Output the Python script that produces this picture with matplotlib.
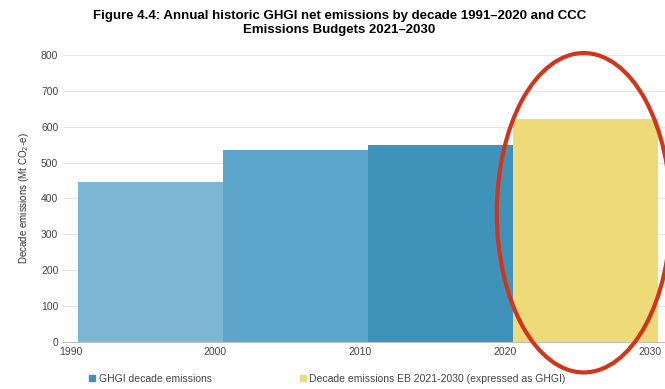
import matplotlib.pyplot as plt
from matplotlib.patches import Ellipse, Patch

plt.rcParams['font.family'] = ['Liberation Sans', 'DejaVu Sans']

# data
decade_start = [1990, 2000, 2010, 2020]
emissions = [447, 535, 550, 620]
bar_colors = ['#7db6d2', '#5ba6ca', '#3f93bb', '#efda7a']
year_ticks = [1990, 2000, 2010, 2020, 2030]
y_ticks = [0, 100, 200, 300, 400, 500, 600, 700, 800]
legend_labels = ['GHGI decade emissions',
                 'Decade emissions EB 2021-2030 (expressed as GHGI)']

fig = plt.figure(figsize=(6.65, 3.89), dpi=100)
ax = fig.add_axes([0.095, 0.121, 0.905, 0.738])

x0 = [d + 0.5 for d in decade_start]
ax.bar(x0, emissions, width=10, align='edge', color=bar_colors, zorder=2)

ax.set_xlim(1989.5, 2031)
ax.set_ylim(0, 800)
ax.set_xticks(year_ticks)
ax.set_yticks(y_ticks)
ax.grid(axis='y', color='#e6e6e6', linewidth=0.8, zorder=0)
for s in ['top', 'right', 'left']:
    ax.spines[s].set_visible(False)
ax.spines['bottom'].set_color('#bfbfbf')
ax.tick_params(length=0, labelsize=7.5, colors='#444444')
ax.tick_params(axis='x', pad=4)
ax.set_ylabel('Decade emissions (Mt CO$_2$-e)', fontsize=7, color='#333333', labelpad=7)

fig.suptitle('Figure 4.4: Annual historic GHGI net emissions by decade 1991\u20132020 and CCC\n'
             'Emissions Budgets 2021\u20132030', fontsize=9.5, fontweight='bold',
             x=0.51, y=0.975, linespacing=1.25)

# red highlight
ell = Ellipse((2025.4, 360), 12, 890, fill=False, edgecolor='#d2351c',
              linewidth=3, clip_on=False, zorder=5)
ax.add_patch(ell)

handles = [Patch(color=bar_colors[2]), Patch(color=bar_colors[3])]
fig.legend(handles, legend_labels, loc='lower left', bbox_to_anchor=(0.12, -0.01),
           ncol=2, frameon=False, fontsize=7.5, handlelength=0.6, handleheight=0.6,
           handletextpad=0.3, columnspacing=8.5, labelcolor='#444444')

fig.savefig('out.png', dpi=100)
